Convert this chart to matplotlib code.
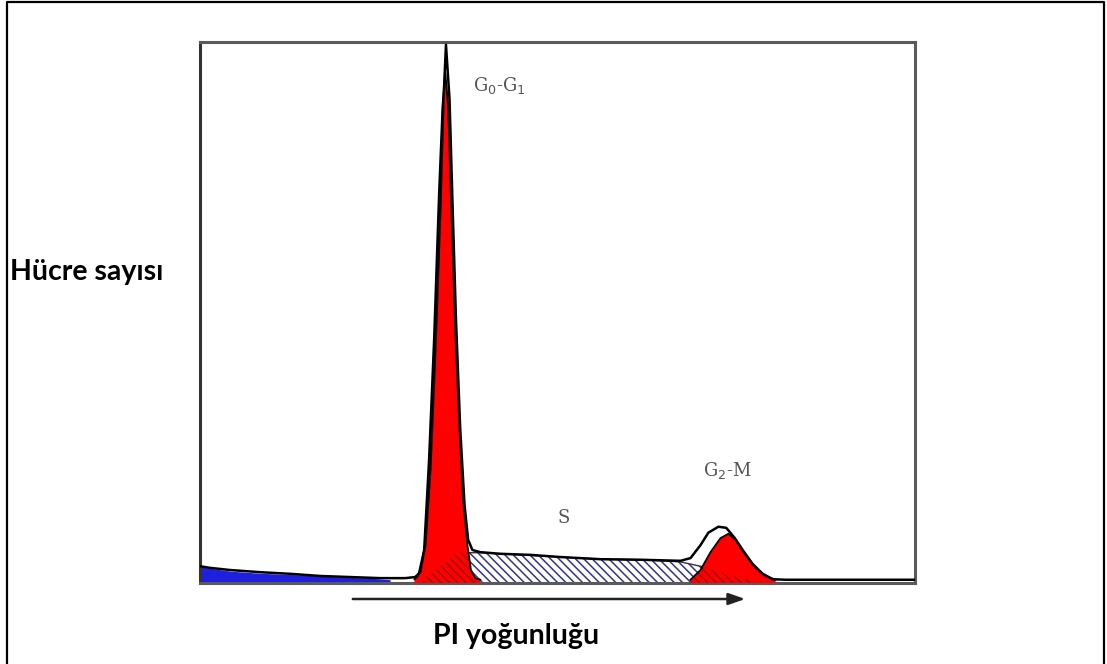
import matplotlib
matplotlib.use("Agg")
import matplotlib.pyplot as plt
from matplotlib.lines import Line2D

# channel (0-1000) vs. cell count (0-1000)
total_x = [0, 14, 42, 84, 126, 168, 210, 252, 287, 301, 308, 315, 322, 329, 336, 340,
           344, 349, 353, 358, 364, 370, 375, 381, 392, 420, 462, 504, 560, 616, 672,
           686, 700, 711, 725, 736, 748, 759, 773, 787, 801, 819, 1000]
total_y = [31, 28, 24, 20, 17, 13, 11, 9, 9, 11, 20, 70, 209, 431, 690, 875,
           995, 894, 709, 487, 283, 144, 80, 61, 57, 54, 52, 48, 44, 43, 41,
           46, 70, 93, 104, 102, 83, 61, 35, 17, 7, 6, 6]

debris_x = [0, 42, 84, 140, 196, 238, 266]
debris_y = [30, 22, 18, 15, 11, 9, 6]

g1_x = [300, 305, 313, 320, 327, 334, 339, 343, 347, 352, 357, 363, 368, 374, 379, 385, 392]
g1_y = [7, 13, 60, 230, 450, 720, 880, 944, 884, 672, 468, 283, 154, 70, 24, 9, 6]

s_x = [311, 336, 360, 392, 448, 504, 560, 616, 672, 700, 728, 756, 770]
s_y = [6, 31, 56, 56, 52, 48, 44, 43, 39, 31, 20, 9, 6]

g2_x = [686, 700, 714, 728, 739, 749, 763, 777, 791, 805]
g2_y = [6, 24, 57, 83, 91, 80, 52, 28, 13, 6]

plt.rcParams['hatch.linewidth'] = 1.1

fig = plt.figure(figsize=(11.07, 6.64), dpi=100)
ax = fig.add_axes([200 / 1107, 1 - 583 / 664, 715 / 1107, 541 / 664])
ax.set_xlim(0, 1000)
ax.set_ylim(0, 1000)

# debris
ax.fill_between(debris_x, 0, debris_y, color='#1f1fe0', lw=0)

# S phase (hatched)
ax.fill_between(s_x, 0, s_y, facecolor='white', edgecolor='#33338a',
                hatch='\\\\\\\\', lw=0, zorder=2)
ax.plot(s_x, s_y, color='#333', lw=1, zorder=2)

# G0/G1 and G2/M peaks
red_fills = []
for px, py in [(g1_x, g1_y), (g2_x, g2_y)]:
    f = ax.fill_between(px, 0, py, facecolor='#ff0000', edgecolor='none', zorder=3)
    ax.plot(px, py, color='black', lw=1.3, zorder=5)
    red_fills.append(f)

# overlap of S with the red peaks: darker red hatching
for f in red_fills:
    h = ax.fill_between(s_x, 0, s_y, facecolor='none', edgecolor='#a01010',
                        hatch='\\\\\\\\', lw=0, zorder=4)
    h.set_clip_path(f.get_paths()[0], f.get_transform())

# measured histogram outline
ax.plot(total_x, total_y, color='black', lw=1.8, zorder=6)

ax.set_xticks([])
ax.set_yticks([])
for sp in ax.spines.values():
    sp.set_color('#5a5a5a')
    sp.set_linewidth(2.2)
ax.spines['left'].set_color('#333333')

# peak labels
lab = dict(family='DejaVu Serif', color='#555555', fontsize=13)
ax.text(382, 920, r'G$_0$-G$_1$', ha='left', va='center', **lab)
ax.text(508, 120, 'S', ha='center', va='center', **lab)
ax.text(704, 208, r'G$_2$-M', ha='left', va='center', **lab)

# axis captions
fig.text(10 / 1107, 1 - 272 / 664, 'Hücre sayısı', family='Lato', weight='bold',
         fontsize=20.5, ha='left', va='center')
fig.text(516 / 1107, 1 - 636 / 664, 'PI yoğunluğu', family='Lato', weight='bold',
         fontsize=20.5, ha='center', va='center')

# arrow under the x axis
fig.add_artist(plt.Annotation('', xy=(748 / 1107, 1 - 599 / 664),
                              xytext=(350 / 1107, 1 - 599 / 664),
                              xycoords='figure fraction', textcoords='figure fraction',
                              arrowprops=dict(arrowstyle='-|>,head_length=1.0,head_width=0.35',
                                              color='#222222', lw=1.8)))

# outer frame (bottom edge falls outside the image)
fx = [7 / 1107, 7 / 1107, 1104 / 1107, 1104 / 1107]
fy = [-0.01, 1 - 2 / 664, 1 - 2 / 664, -0.01]
fig.add_artist(Line2D(fx, fy, color='black', lw=1.6, transform=fig.transFigure))

fig.savefig('out.png', dpi=100)
